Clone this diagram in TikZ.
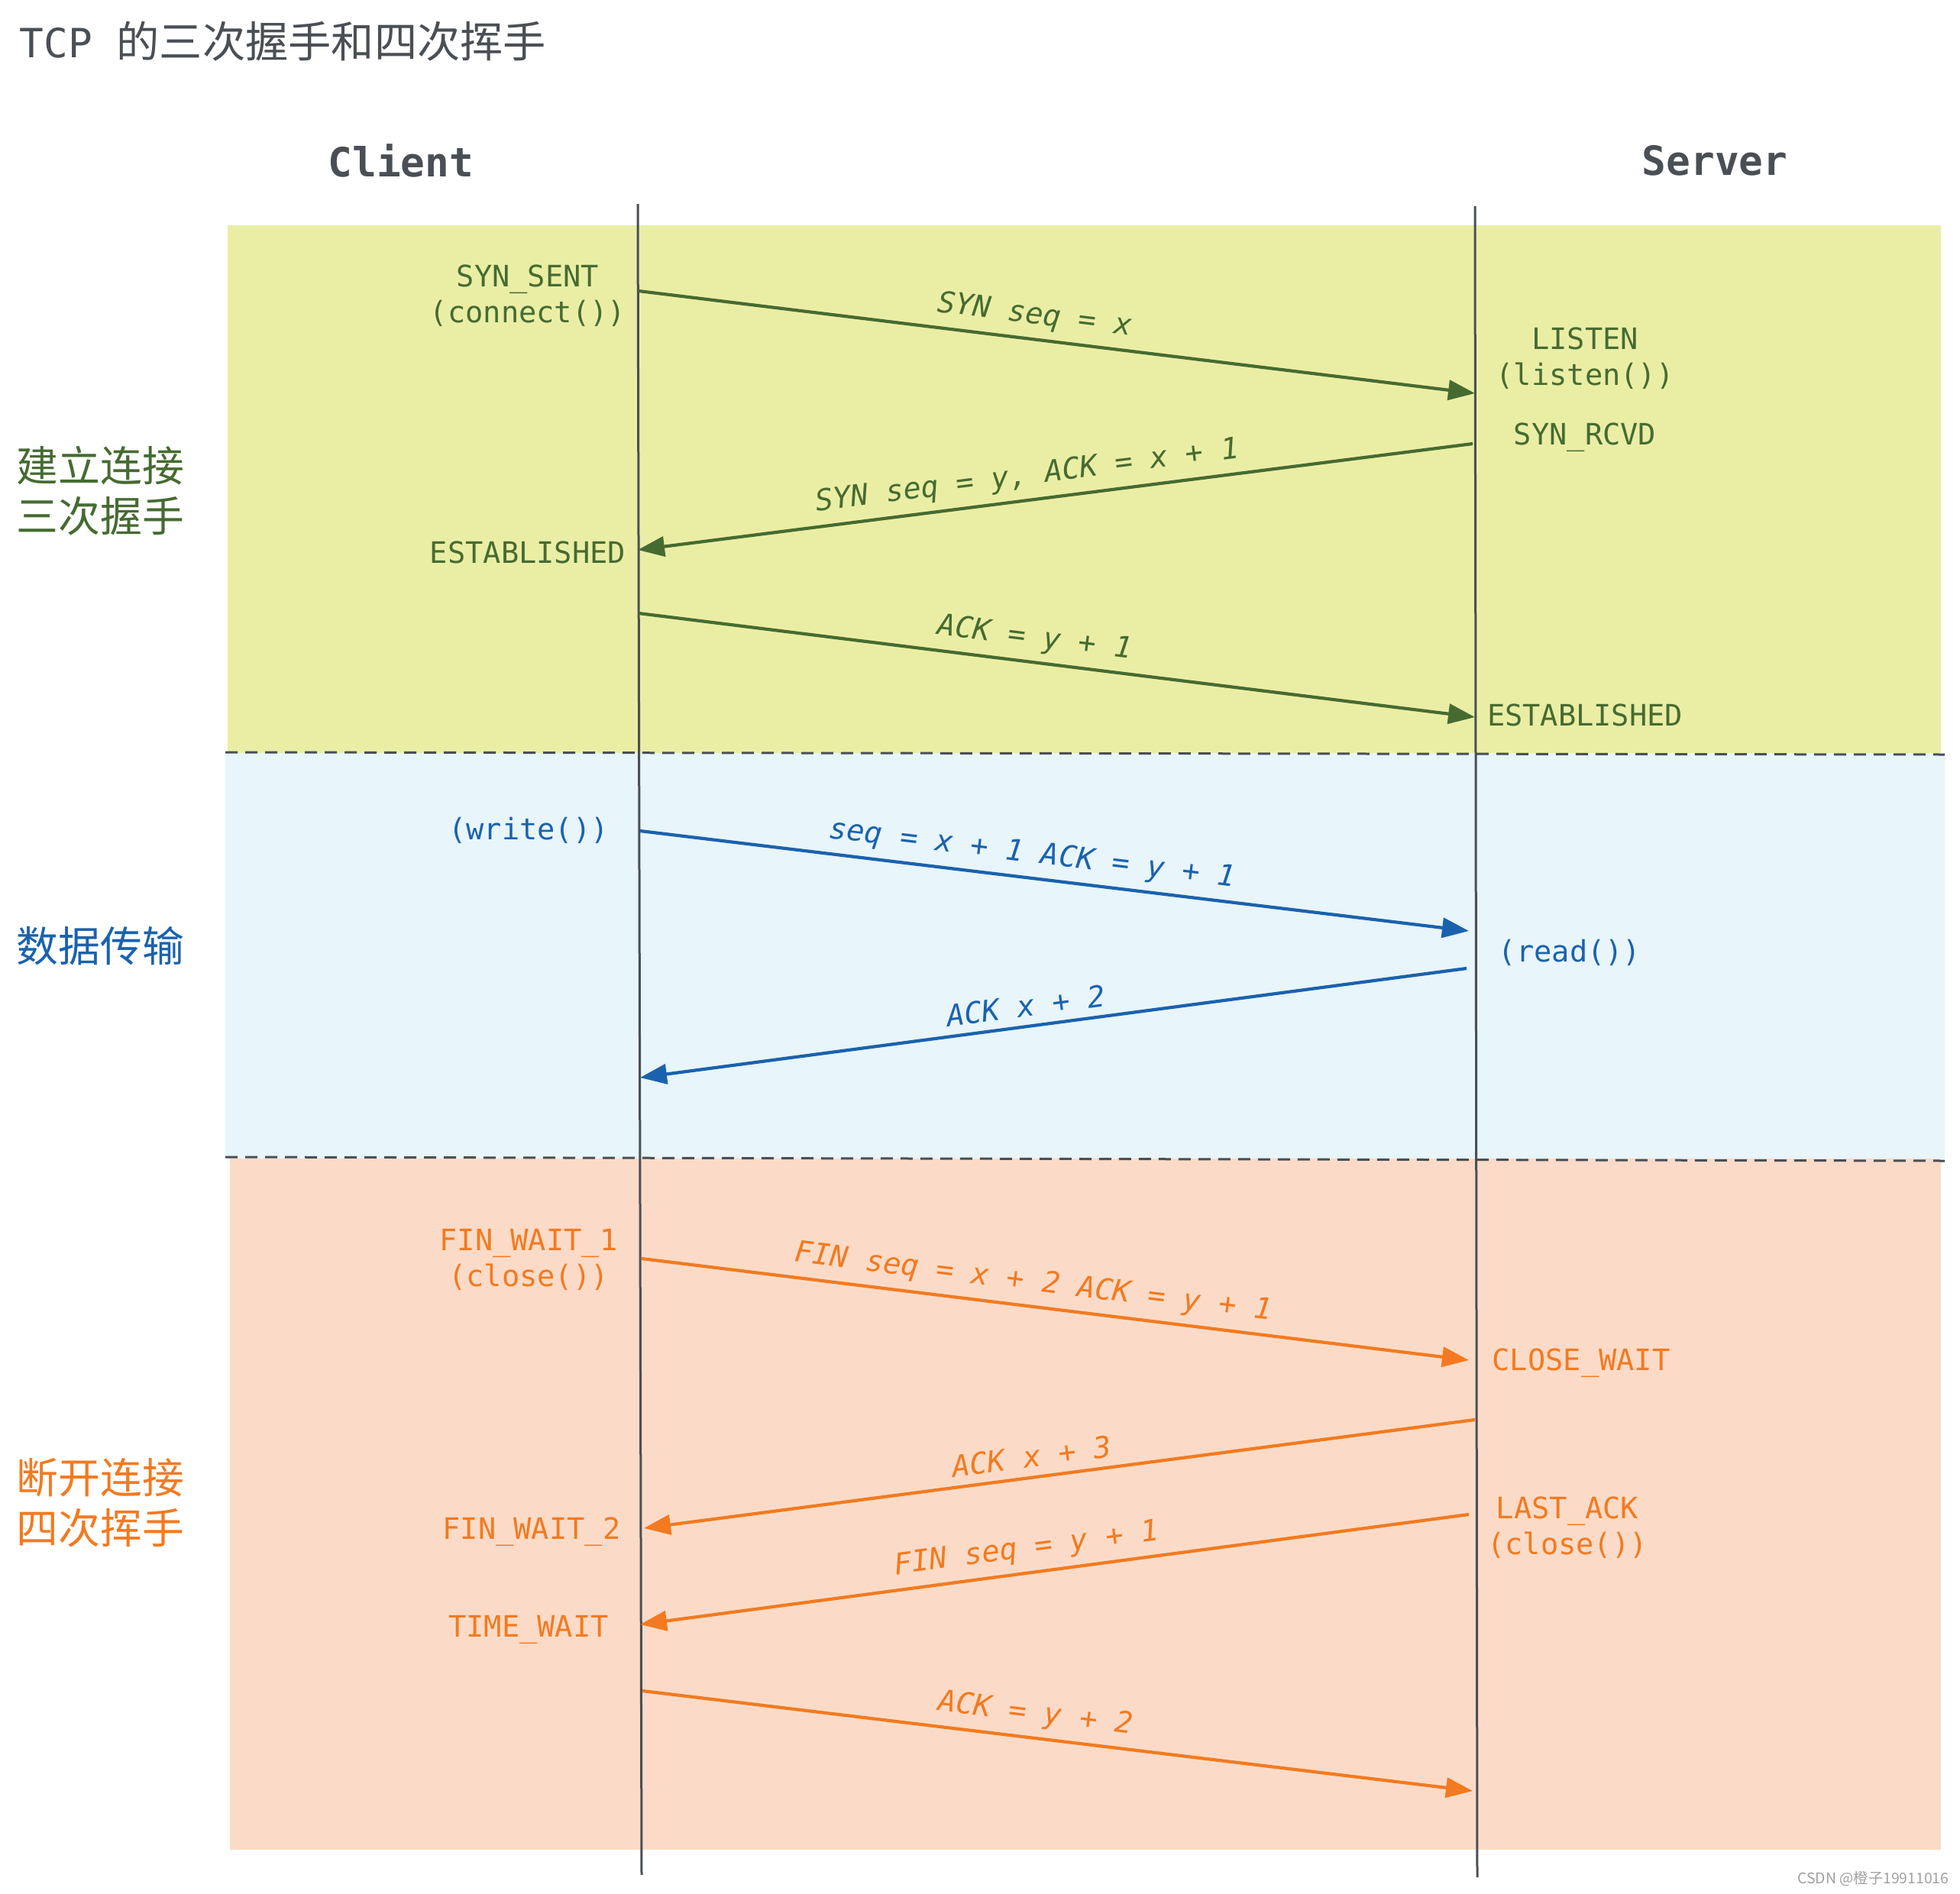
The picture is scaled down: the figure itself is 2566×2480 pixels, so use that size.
\documentclass[tikz,border=0pt]{standalone}
\usepackage{fontspec}
\setmonofont{DejaVu Sans Mono}
\newfontfamily\cjk{Noto Sans CJK SC}
\usetikzlibrary{arrows.meta}
\definecolor{bandG}{RGB}{234,238,165}
\definecolor{bandB}{RGB}{232,245,250}
\definecolor{bandO}{RGB}{251,219,199}
\definecolor{txG}{RGB}{70,107,49}
\definecolor{txB}{RGB}{26,98,174}
\definecolor{txO}{RGB}{243,122,32}
\definecolor{lifeC}{RGB}{74,79,85}
\definecolor{wmark}{RGB}{160,160,160}
\tikzset{
  lifeline/.style={draw=lifeC, line width=0.3mm},
  sepline/.style={draw=lifeC, line width=0.3mm, dash pattern=on 1.6mm off 1.0mm},
  msg/.style={line width=0.42mm, -{Triangle[length=3.5mm,width=2.6mm]}},
  state/.style={font=\ttfamily\fontsize{11}{13.4}\selectfont, align=center, inner sep=0pt},
  lbl/.style={font=\ttfamily\itshape\fontsize{11}{13}\selectfont, sloped, above},
  head/.style={font=\ttfamily\bfseries\fontsize{15}{18}\selectfont, text=lifeC},
  side/.style={font=\cjk\fontsize{15.6}{18.8}\selectfont, align=left, anchor=west, inner sep=0pt}
}
\begin{document}
\begin{tikzpicture}[x=0.1mm,y=-0.1mm]
\useasboundingbox (0,0) rectangle (2566,2480);
% bands
\fill[bandG] (298,295) rectangle (2541,986);
\fill[bandB] (295,986) rectangle (2546,1517);
\fill[bandO] (301,1517) rectangle (2541,2422);
\draw[sepline] (295,985) -- (2546,988);
\draw[sepline] (295,1515) -- (2546,1520);
% title and heads
\node[anchor=west, inner sep=0pt, text=lifeC] (title) at (25,54)
  {\fontsize{15}{18}\selectfont\ttfamily TCP\ {\cjk\fontsize{16}{18}\selectfont 的三次握手和四次挥手}};
\node[head] (client) at (525,210) {Client};
\node[head] (server) at (2245,210) {Server};
% lifelines
\coordinate (ctop) at (835,267); \coordinate (cbot) at (840,2455);
\coordinate (stop) at (1931,270); \coordinate (sbot) at (1934,2458);
\draw[lifeline] (ctop) -- (cbot);
\draw[lifeline] (stop) -- (sbot);
% side labels
\node[side, text=txG] (s1) at (21,643) {建立连接\\三次握手};
\node[side, text=txB] (s2) at (21,1239) {数据传输};
\node[side, text=txO] (s3) at (21,1968) {断开连接\\四次挥手};
% states
\node[state, text=txG] (ss) at (691,387) {SYN\_SENT\\(connect())};
\node[state, text=txG] (estC) at (691,723) {ESTABLISHED};
\node[state, text=txG] (listen) at (2075,469) {LISTEN\\(listen())};
\node[state, text=txG] (synr) at (2075,573) {SYN\_RCVD};
\node[state, text=txG] (estS) at (2075,936) {ESTABLISHED};
\node[state, text=txB] (write) at (692,1087) {(write())};
\node[state, text=txB] (read) at (2055,1247) {(read())};
\node[state, text=txO] (fw1) at (692,1649) {FIN\_WAIT\_1\\(close())};
\node[state, text=txO] (cw) at (2070,1785) {CLOSE\_WAIT};
\node[state, text=txO] (la) at (2052,2000) {LAST\_ACK\\(close())};
\node[state, text=txO] (fw2) at (696,2006) {FIN\_WAIT\_2};
\node[state, text=txO] (tw) at (692,2134) {TIME\_WAIT};
% message end points
\coordinate (a1s) at (836,381);  \coordinate (a1e) at (1931,515);
\coordinate (a2s) at (1928,581); \coordinate (a2e) at (835,720);
\coordinate (a3s) at (836,803);  \coordinate (a3e) at (1931,939);
\coordinate (a4s) at (838,1088); \coordinate (a4e) at (1923,1219);
\coordinate (a5s) at (1920,1268);\coordinate (a5e) at (838,1411);
\coordinate (a6s) at (840,1648); \coordinate (a6e) at (1923,1781);
\coordinate (a7s) at (1931,1859);\coordinate (a7e) at (843,2001);
\coordinate (a8s) at (1923,1983);\coordinate (a8e) at (838,2127);
\coordinate (a9s) at (841,2214); \coordinate (a9e) at (1928,2345);
% messages
\draw[msg, txG] (a1s) -- (a1e);
\path (a1s) -- (a1e) node[lbl, pos=0.47, text=txG] {SYN seq = x};
\draw[msg, txG] (a2s) -- (a2e);
\path (a2e) -- (a2s) node[lbl, pos=0.47, text=txG] {SYN seq = y, ACK = x + 1};
\draw[msg, txG] (a3s) -- (a3e);
\path (a3s) -- (a3e) node[lbl, pos=0.47, text=txG] {ACK = y + 1};
\draw[msg, txB] (a4s) -- (a4e);
\path (a4s) -- (a4e) node[lbl, pos=0.47, text=txB] {seq = x + 1 ACK = y + 1};
\draw[msg, txB] (a5s) -- (a5e);
\path (a5e) -- (a5s) node[lbl, pos=0.47, text=txB] {ACK x + 2};
\draw[msg, txO] (a6s) -- (a6e);
\path (a6s) -- (a6e) node[lbl, pos=0.47, text=txO] {FIN seq = x + 2 ACK = y + 1};
\draw[msg, txO] (a7s) -- (a7e);
\path (a7e) -- (a7s) node[lbl, pos=0.47, text=txO] {ACK x + 3};
\draw[msg, txO] (a8s) -- (a8e);
\path (a8e) -- (a8s) node[lbl, pos=0.47, text=txO] {FIN seq = y + 1};
\draw[msg, txO] (a9s) -- (a9e);
\path (a9s) -- (a9e) node[lbl, pos=0.47, text=txO] {ACK = y + 2};
% watermark
\node[anchor=east, inner sep=0pt, text=wmark, font=\cjk\fontsize{5.5}{6}\selectfont] (wm) at (2552,2460) {CSDN @橙子19911016};
\end{tikzpicture}
\end{document}
